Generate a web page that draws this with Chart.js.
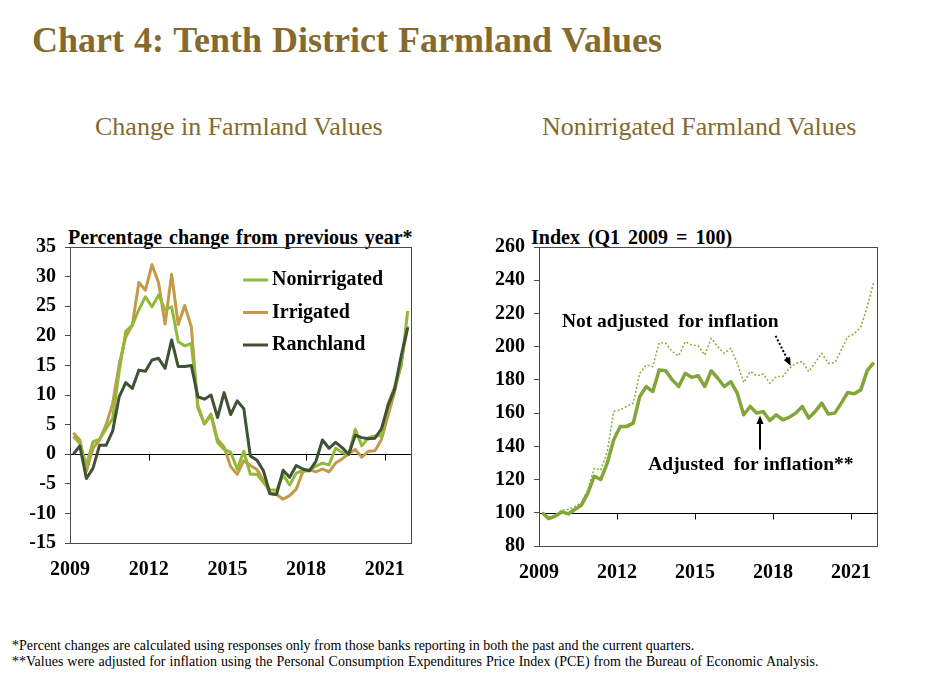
<!DOCTYPE html>
<html>
<head>
<meta charset="utf-8">
<script src="https://cdn.jsdelivr.net/npm/chart.js@4.4.0/dist/chart.umd.min.js"></script>
<style>
  body { margin: 0; background: #fff; width: 925px; height: 693px; position: relative; overflow: hidden; }
  .txt { position: absolute; font-family: "Liberation Serif", "Times New Roman", serif; white-space: nowrap; }
  .title { left: 32px; top: 19px; font-size: 36px; font-weight: bold; color: #846a2e; word-spacing: 1px; }
  .sub { top: 112px; font-size: 26px; color: #846a2e; }
  .axt { top: 226px; font-size: 20px; font-weight: bold; color: #000; }
  .note { left: 12px; font-size: 14px; color: #000; }
  .box { position: absolute; top: 225px; height: 365px; }
</style>
</head>
<body>
<div class="txt title">Chart 4: Tenth District Farmland Values</div>
<div class="txt sub" style="left:95px">Change in Farmland Values</div>
<div class="txt sub" style="left:542px">Nonirrigated Farmland Values</div>
<div class="txt axt" style="left:68px;word-spacing:2px">Percentage change from previous year*</div>
<div class="txt axt" style="left:531px;word-spacing:3px">Index (Q1 2009 = 100)</div>
<div class="box" style="left:10px;width:420px"><canvas id="leftChart"></canvas></div>
<div class="box" style="left:470px;width:425px"><canvas id="rightChart"></canvas></div>
<div class="txt note" style="top:638px">*Percent changes are calculated using responses only from those banks reporting in both the past and the current quarters.</div>
<div class="txt note" style="top:654px;word-spacing:0.5px">**Values were adjusted for inflation using the Personal Consumption Expenditures Price Index (PCE) from the Bureau of Economic Analysis.</div>

<script>
// ---- data (quarterly, 2009 Q1 .. 2021 Q4) ----
const firstYear = 2009;
const lastYear = 2021;
const xTickYears = [2009, 2012, 2015, 2018, 2021];

// percent change from previous year
const nonirrigated = [3.0, 1.8, -1.9, 2.1, 2.5, 4.3, 6.0, 14.0, 20.7, 21.8,
  24.4, 26.6, 24.9, 26.9, 24.4, 24.9, 19.0, 18.3, 18.7, 8.2,
  5.1, 6.6, 2.0, 0.8, 0.3, -2.5, 0.5, -3.4, -3.4, -4.8,
  -6.0, -6.1, -3.5, -5.2, -3.2, -2.8, -2.8, -2.0, -1.5, -1.8,
  1.0, 0.3, -0.1, 4.2, 1.4, 2.8, 3.1, 3.1, 8.5, 11.3,
  14.8, 24.2];
const irrigated = [3.6, 2.4, -2.9, 1.0, 2.4, 5.0, 8.5, 15.2, 19.8, 21.8,
  29.0, 27.7, 32.0, 29.0, 22.0, 30.4, 21.9, 25.1, 21.5, 7.8,
  5.1, 6.8, 2.5, 1.2, -2.1, -3.4, -1.1, -1.9, -2.6, -4.4,
  -6.6, -6.8, -7.6, -7.0, -5.9, -3.0, -2.6, -3.0, -2.5, -3.0,
  -1.5, -0.8, 0.1, 0.8, -0.5, 0.5, 0.6, 2.5, 6.5, 10.5,
  15.5, 21.6];
const ranchland = [0.0, 1.4, -4.1, -2.4, 1.5, 1.5, 3.9, 9.7, 12.1, 11.1,
  14.2, 14.0, 15.9, 16.2, 14.5, 19.3, 14.8, 14.8, 15.0, 9.7,
  9.3, 10.0, 6.2, 10.4, 6.7, 9.0, 7.7, -0.3, -1.0, -2.8,
  -6.7, -6.8, -2.7, -3.9, -1.9, -2.5, -2.8, -1.2, 2.4, 1.0,
  2.0, 1.1, 0.0, 3.2, 2.8, 2.6, 2.7, 4.3, 8.2, 11.0,
  16.6, 21.4];

// nonirrigated index, Q1 2009 = 100
const adjusted = [100, 96.5, 98, 100.5, 99.3, 102, 104.5, 111.7, 122, 120,
  130, 144, 152, 152, 154, 170, 176, 173, 186, 185.5,
  180, 176, 184, 181.5, 182.5, 176, 185.5, 181, 176, 179,
  172, 159, 164, 160, 161, 155.5, 159, 156, 157.5, 160,
  164, 157, 161, 166, 159.5, 160, 166, 172.4, 171.6, 174,
  185.6, 190.4];
const notAdjusted = [100, 97.2, 98.7, 101.7, 102, 103.7, 106, 113.7, 126.8, 125.8,
  136.8, 161, 162, 164, 166, 184, 189, 188, 202.5, 202,
  197, 194.5, 203, 201, 200.5, 195, 205, 200, 196, 199,
  190, 178.4, 185, 182.4, 183.6, 178, 182, 182, 187, 190,
  191, 185, 190.4, 196, 190, 190.4, 198, 206, 207.7, 212,
  224, 239];

// quarter positions on a year axis (middle of each quarter)
const quarters = [];
for (let y = firstYear; y <= lastYear; y++) {
  for (let q = 0; q < 4; q++) quarters.push(y + (q + 0.5) / 4);
}
const toPoints = (vals) => vals.map((v, i) => ({ x: quarters[i], y: v }));

const FONT = '"Liberation Serif", "Times New Roman", serif';
Chart.defaults.font.family = FONT;
Chart.defaults.color = '#000';

// box round the plot and the base line with its small ticks
function framePlugin(baseValue) {
  return {
    id: 'frame',
    beforeDatasetsDraw(chart) {
      const { ctx, chartArea: a, scales } = chart;
      const y0 = Math.round(scales.y.getPixelForValue(baseValue)) + 0.5;
      ctx.save();
      ctx.strokeStyle = '#000';
      ctx.lineWidth = 1;
      ctx.beginPath();
      ctx.moveTo(a.left, y0);
      ctx.lineTo(a.right, y0);
      xTickYears.slice(1).forEach(v => {
        const x = Math.round(scales.x.getPixelForValue(v)) + 0.5;
        ctx.moveTo(x, y0);
        ctx.lineTo(x, y0 + 6);
      });
      ctx.stroke();
      ctx.restore();
    },
    afterDraw(chart) {
      const { ctx, chartArea: a } = chart;
      ctx.save();
      ctx.strokeStyle = '#4a4a4a';
      ctx.lineWidth = 1;
      ctx.strokeRect(Math.round(a.left) + 0.5, Math.round(a.top) + 0.5,
        Math.round(a.right - a.left), Math.round(a.bottom - a.top));
      ctx.restore();
    }
  };
}

const legendPlugin = {
  id: 'insideLegend',
  afterDraw(chart) {
    const { ctx, chartArea: a } = chart;
    ctx.save();
    ctx.font = 'bold 20px ' + FONT;
    ctx.textBaseline = 'middle';
    chart.data.datasets.forEach((ds, i) => {
      const y = a.top + 33 + i * 32.5;
      ctx.strokeStyle = ds.borderColor;
      ctx.lineWidth = 3;
      ctx.beginPath();
      ctx.moveTo(a.left + 173, y);
      ctx.lineTo(a.left + 198, y);
      ctx.stroke();
      ctx.fillStyle = '#000';
      ctx.fillText(ds.label, a.left + 202, y);
    });
    ctx.restore();
  }
};

// labels and arrows on the index chart
const notesPlugin = {
  id: 'notes',
  afterDraw(chart) {
    const { ctx, scales: { x, y } } = chart;
    ctx.save();
    ctx.font = 'bold 19.5px ' + FONT;
    ctx.fillStyle = '#000';
    ctx.textBaseline = 'middle';
    ctx.fillText('Not adjusted  for inflation', x.getPixelForValue(2009.88), y.getPixelForValue(215));
    ctx.fillText('Adjusted  for inflation**', x.getPixelForValue(2013.2), y.getPixelForValue(129));

    function arrow(x1, y1, x2, y2, dash) {
      const px1 = x.getPixelForValue(x1), py1 = y.getPixelForValue(y1);
      const px2 = x.getPixelForValue(x2), py2 = y.getPixelForValue(y2);
      const ang = Math.atan2(py2 - py1, px2 - px1);
      ctx.strokeStyle = '#000';
      ctx.lineWidth = 2;
      ctx.setLineDash(dash);
      ctx.beginPath();
      ctx.moveTo(px1, py1);
      ctx.lineTo(px2 - 7 * Math.cos(ang), py2 - 7 * Math.sin(ang));
      ctx.stroke();
      ctx.setLineDash([]);
      ctx.beginPath();
      ctx.moveTo(px2, py2);
      ctx.lineTo(px2 - 9 * Math.cos(ang - 0.4), py2 - 9 * Math.sin(ang - 0.4));
      ctx.lineTo(px2 - 9 * Math.cos(ang + 0.4), py2 - 9 * Math.sin(ang + 0.4));
      ctx.closePath();
      ctx.fillStyle = '#000';
      ctx.fill();
    }
    arrow(2018.1, 206.5, 2018.68, 188.5, [2, 2]);
    arrow(2017.5, 138, 2017.5, 158.5, []);
    ctx.restore();
  }
};

function xAxis(height) {
  return {
    type: 'linear',
    min: firstYear,
    max: lastYear + 1,
    afterBuildTicks: (axis) => { axis.ticks = xTickYears.map(v => ({ value: v })); },
    afterFit: (axis) => { axis.height = height; },
    grid: { display: false },
    border: { display: false },
    ticks: {
      padding: 7,
      maxRotation: 0,
      autoSkip: false,
      font: { size: 20, weight: 'bold' },
      callback: (v) => String(v)
    }
  };
}

function yAxis(min, max, step, width) {
  return {
    min: min,
    max: max,
    afterFit: (axis) => { axis.width = width; },
    grid: { display: true, drawOnChartArea: false, tickLength: 5, color: '#4a4a4a' },
    border: { display: true, color: '#4a4a4a' },
    ticks: {
      stepSize: step,
      padding: 9,
      font: { size: 20, weight: 'bold' },
      callback: (v) => String(v)
    }
  };
}

const lineDefaults = { pointRadius: 0, tension: 0, fill: false, borderJoinStyle: 'round' };

// ==================== left: percent change ====================
new Chart(document.getElementById('leftChart'), {
  type: 'line',
  data: {
    datasets: [
      { ...lineDefaults, label: 'Nonirrigated', data: toPoints(nonirrigated), borderColor: '#93b83a', borderWidth: 3, order: 1 },
      { ...lineDefaults, label: 'Irrigated', data: toPoints(irrigated), borderColor: '#c29a49', borderWidth: 3, order: 2 },
      { ...lineDefaults, label: 'Ranchland', data: toPoints(ranchland), borderColor: '#3f5233', borderWidth: 3, order: 0 }
    ]
  },
  options: {
    responsive: true,
    maintainAspectRatio: false,
    animation: false,
    layout: { padding: { left: 0, right: 19, top: 22, bottom: 0 } },
    plugins: { legend: { display: false }, tooltip: { enabled: false } },
    scales: { x: xAxis(47), y: yAxis(-15, 35, 5, 60) }
  },
  plugins: [framePlugin(0), legendPlugin]
});

// ==================== right: nonirrigated index ====================
new Chart(document.getElementById('rightChart'), {
  type: 'line',
  data: {
    datasets: [
      { ...lineDefaults, label: 'Adjusted for inflation', data: toPoints(adjusted), borderColor: '#82a63a', borderWidth: 3.5 },
      { ...lineDefaults, label: 'Not adjusted for inflation', data: toPoints(notAdjusted), borderColor: '#8db43a', borderWidth: 1.6, borderDash: [2, 2] }
    ]
  },
  options: {
    responsive: true,
    maintainAspectRatio: false,
    animation: false,
    layout: { padding: { left: 0, right: 18, top: 22, bottom: 0 } },
    plugins: { legend: { display: false }, tooltip: { enabled: false } },
    scales: { x: xAxis(44), y: yAxis(80, 260, 20, 69) }
  },
  plugins: [framePlugin(100), notesPlugin]
});
</script>
</body>
</html>
